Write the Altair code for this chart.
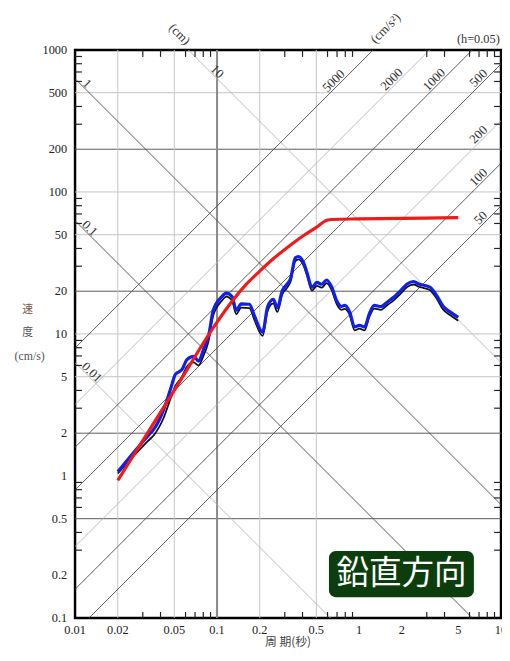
import math
import altair as alt
import pandas as pd

W, H = 432, 576

# ---------------- data ----------------
blue_T = [0.020, 0.0276, 0.0324, 0.0361, 0.0423, 0.047, 0.0509, 0.0567, 0.0614, 0.0684, 0.074,
          0.0802, 0.0869, 0.094, 0.1074, 0.1164, 0.128, 0.1366, 0.148, 0.169, 0.183, 0.2094,
          0.227, 0.249, 0.266, 0.288, 0.312, 0.329, 0.356, 0.374, 0.407, 0.43, 0.466, 0.505,
          0.546, 0.592, 0.641, 0.695, 0.752, 0.793, 0.859, 0.931, 1.008, 1.092, 1.183, 1.28,
          1.426, 1.585, 1.764, 1.963, 2.18, 2.43, 2.63, 2.93, 3.17, 3.53, 3.92, 4.37, 5.0]
blue_V = [1.07, 1.58, 1.90, 2.15, 2.97, 4.08, 5.19, 5.62, 6.6, 6.96, 6.43,
          7.74, 9.53, 14.7, 18.2, 19.4, 18.2, 14.7, 16.3, 16.2, 13.5, 10.3,
          15.5, 17.5, 15.3, 20.2, 22.5, 24.5, 34.4, 35.1, 31.8, 27.1, 21.3, 23.1,
          22.4, 24.0, 21.5, 17.2, 15.6, 15.9, 14.3, 11.2, 11.5, 11.2, 13.9, 15.9,
          15.6, 16.8, 18.2, 20.2, 22.5, 23.4, 22.5, 21.9, 21.3, 18.6, 15.6, 14.3, 13.1]
black_T = blue_T
black_V = [1.04, 1.48, 1.75, 1.95, 2.6, 3.5, 4.3, 5.0, 5.9, 6.3, 6.0,
           7.0, 8.8, 13.5, 17.0, 18.3, 17.0, 13.8, 15.3, 15.2, 12.6, 9.7,
           14.5, 16.4, 14.3, 19.0, 21.2, 23.2, 32.5, 33.5, 30.3, 25.8, 20.2, 21.8,
           21.2, 22.8, 20.4, 16.3, 14.8, 15.0, 13.6, 10.6, 10.9, 10.6, 13.2, 15.1,
           14.8, 16.0, 17.3, 19.2, 21.4, 22.3, 21.5, 20.9, 20.3, 17.7, 14.8, 13.6, 12.4]
red_T = [0.02, 0.05, 0.1, 0.126, 0.158, 0.2, 0.251, 0.316, 0.398, 0.5, 0.6, 0.65, 1.0, 2.0, 5.0]
red_V = [0.93, 4.0, 12.1, 16.7, 22.0, 27.7, 34.1, 41.0, 48.6, 56.3, 63.5, 64.0, 64.6, 65.2, 65.9]

x_label_values = [0.01, 0.02, 0.05, 0.1, 0.2, 0.5, 1, 2, 5, 10]
y_label_values = [0.1, 0.2, 0.5, 1, 2, 5, 10, 20, 50, 100, 200, 500, 1000]
x_grid_dark = [0.1]
x_grid_light = [0.02, 0.05, 0.2, 0.5]
y_grid_dark = [0.5, 2, 20, 200]
y_grid_light = [5, 10, 50, 100, 500]
x_minor = [0.03, 0.04, 0.06, 0.07, 0.08, 0.09, 0.3, 0.4, 0.6, 0.7, 0.8, 0.9,
           3, 4, 6, 7, 8, 9]
y_minor = [0.3, 0.4, 0.6, 0.7, 0.8, 0.9, 3, 4, 6, 7, 8, 9,
           30, 40, 60, 70, 80, 90, 300, 400, 600, 700, 800, 900]
disp_dark = [0.1, 1]          # displacement lines (cm)
disp_light = [0.01, 10]
acc_dark = [50, 100, 500, 1000, 5000]   # acceleration lines (cm/s2)
acc_light = [200, 2000]
disp_label_T = {0.01: 0.0124, 0.1: 0.0120, 1: 0.0115, 10: 0.0944}
acc_label_T = {5000: 0.71, 2000: 1.82, 1000: 3.62, 500: 7.44, 200: 7.44, 100: 7.44, 50: 7.7}

# ---------------- helpers ----------------
xs = alt.Scale(type="log", domain=[0.01, 10], nice=False)
ys = alt.Scale(type="log", domain=[0.1, 1000], nice=False)
SERIF = "Liberation Serif"
CJK = "Noto Sans CJK JP"
one = alt.Data(values=[{"a": 1}])


def X():
    return alt.X("T:Q", scale=xs, axis=None)


def Y():
    return alt.Y("V:Q", scale=ys, axis=None)


def diag_df(values, kind):
    rows = []
    for v in values:
        for t in (0.01, 10.0):
            val = 2 * math.pi * v / t if kind == "d" else v * t / (2 * math.pi)
            rows.append({"T": t, "V": val, "k": f"{kind}{v}"})
    return pd.DataFrame(rows)


def fixed_text(txt, x, y, **kw):
    return alt.Chart(one).mark_text(**kw).encode(
        x=alt.value(x), y=alt.value(y), text=alt.value(txt))


layers = []

# grid
layers.append(alt.Chart(pd.DataFrame({"V": y_grid_light})).mark_rule(color="#c4c4c4", strokeWidth=1).encode(y=Y()))
layers.append(alt.Chart(pd.DataFrame({"V": y_grid_dark})).mark_rule(color="#5a5a5a", strokeWidth=1).encode(y=Y()))
layers.append(alt.Chart(pd.DataFrame({"T": x_grid_light})).mark_rule(color="#c4c4c4", strokeWidth=1).encode(x=X()))
layers.append(alt.Chart(pd.DataFrame({"T": x_grid_dark})).mark_rule(color="#8a8a8a", strokeWidth=2).encode(x=X()))

# tripartite diagonals
for vals, kind, col in [(disp_light, "d", "#b5b5b5"), (acc_light, "a", "#b5b5b5"),
                        (disp_dark, "d", "#4a4a4a"), (acc_dark, "a", "#4a4a4a")]:
    layers.append(alt.Chart(diag_df(vals, kind)).mark_line(clip=True, color=col, strokeWidth=0.9).encode(
        x=X(), y=Y(), detail="k:N"))

# minor ticks
yt = pd.DataFrame({"V": y_minor})
xt = pd.DataFrame({"T": x_minor})
tick = dict(color="#222", strokeWidth=1.2)
layers.append(alt.Chart(yt).mark_rule(**tick).encode(y=Y(), x=alt.value(0), x2=alt.value(7)))
layers.append(alt.Chart(yt).mark_rule(**tick).encode(y=Y(), x=alt.value(W - 7), x2=alt.value(W)))
layers.append(alt.Chart(xt).mark_rule(**tick).encode(x=X(), y=alt.value(0), y2=alt.value(7)))
layers.append(alt.Chart(xt).mark_rule(**tick).encode(x=X(), y=alt.value(H - 6), y2=alt.value(H)))

# axis tick labels (placed through the shared scales)
xl = pd.DataFrame({"T": x_label_values, "label": [f"{v:g}" for v in x_label_values]})
yl = pd.DataFrame({"V": y_label_values, "label": [f"{v:g}" for v in y_label_values]})
layers.append(alt.Chart(xl).mark_text(font=SERIF, fontSize=12.5, color="#222", baseline="middle").encode(
    x=X(), y=alt.value(H + 12), text="label:N"))
layers.append(alt.Chart(yl).mark_text(font=SERIF, fontSize=12.5, color="#222", baseline="middle",
                                      align="right").encode(
    y=Y(), x=alt.value(-8), text="label:N"))

# diagonal labels
dl = pd.DataFrame([{"T": t, "V": 2 * math.pi * d / t, "label": f"{d:g}"} for d, t in disp_label_T.items()])
al = pd.DataFrame([{"T": t, "V": a * t / (2 * math.pi), "label": f"{a:g}"} for a, t in acc_label_T.items()])
layers.append(alt.Chart(dl).mark_text(angle=45, dy=-5, font=SERIF, fontSize=13, color="#333").encode(
    x=X(), y=Y(), text="label:N"))
layers.append(alt.Chart(al).mark_text(angle=315, dy=-6, font=SERIF, fontSize=13, color="#333").encode(
    x=X(), y=Y(), text="label:N"))

# curves
layers.append(alt.Chart(pd.DataFrame({"T": black_T, "V": black_V})).mark_line(
    color="#111", strokeWidth=1.8, interpolate="monotone").encode(x=X(), y=Y()))
layers.append(alt.Chart(pd.DataFrame({"T": blue_T, "V": blue_V})).mark_line(
    color="#1020e8", strokeWidth=3.2, interpolate="monotone").encode(x=X(), y=Y()))
layers.append(alt.Chart(pd.DataFrame({"T": red_T, "V": red_V})).mark_line(
    color="#f01a1a", strokeWidth=3.2, interpolate="monotone").encode(x=X(), y=Y()))

# annotation texts
layers.append(fixed_text("(cm)", 106, -16, angle=45, font=SERIF, fontSize=13, color="#333"))
layers.append(fixed_text("(cm/s²)", 315, -22, angle=315, font=SERIF, fontSize=13, color="#333"))
layers.append(fixed_text("(h=0.05)", 409, -11, font=SERIF, fontSize=12.5, color="#333"))
layers.append(fixed_text("速", -48, 264, font=CJK, fontSize=11, color="#7a5a48"))
layers.append(fixed_text("度", -48, 287, font=CJK, fontSize=11, color="#555"))
layers.append(fixed_text("(cm/s)", -46, 310, font=SERIF, fontSize=12, color="#555"))
layers.append(fixed_text("周 期(秒)", 216, 600, font=CJK, fontSize=12, color="#444"))

# direction box
layers.append(alt.Chart(one).mark_rect(color="#0c3d0c", cornerRadius=7).encode(
    x=alt.value(257.5), x2=alt.value(404.5), y=alt.value(508), y2=alt.value(555)))
layers.append(fixed_text("鉛直方向", 331, 532, font=CJK, fontSize=33, color="#ffffff", baseline="middle"))

chart = alt.layer(*layers).properties(
    width=W, height=H,
    autosize=alt.AutoSizeParams(type="none"),
    padding={"left": 68, "top": 38, "right": 1, "bottom": 31},
).configure_view(stroke="#000", strokeWidth=2.5)

chart.save("out.html", embed_options={"renderer": "svg", "actions": False})
